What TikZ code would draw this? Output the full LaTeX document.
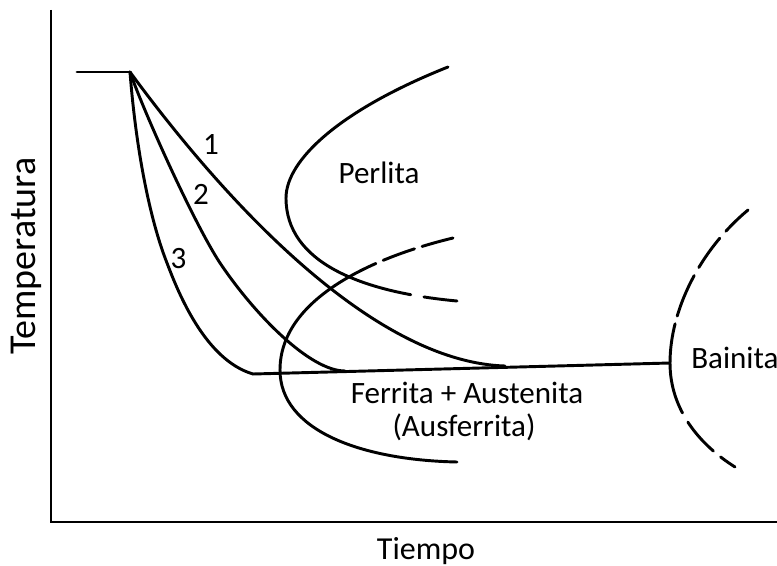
\documentclass[tikz,border=0pt]{standalone}
\usepackage{fontspec}
\setmainfont{Carlito}
\begin{document}
\begin{tikzpicture}[x=0.75pt,y=-0.75pt,
  curve/.style={line width=2.2pt, line cap=round, line join=round},
  axis/.style={line width=1.5pt},
  lbl/.style={font=\fontsize{23.3}{28}\selectfont, inner sep=0pt, anchor=base},
  biglbl/.style={font=\fontsize{28.5}{34}\selectfont, inner sep=0pt, anchor=base}]
\useasboundingbox (0,0) rectangle (777,566);
\fill[white] (0,0) rectangle (777,566);
% axes
\coordinate (top) at (51,10);
\coordinate (origin) at (51,522);
\coordinate (xend) at (777,522);
\draw[axis] (top) -- (origin) -- (xend);
% cooling curves
\coordinate (s0) at (77,72);
\coordinate (s1) at (130,72);
\coordinate (m3) at (167,263);
\coordinate (e3) at (253,374);
\coordinate (m2) at (220,263);
\coordinate (e2) at (345,371);
\coordinate (e1) at (505,366);
\coordinate (bn) at (670,363);
\draw[curve] (s0) -- (s1);
\draw[curve] (s1) .. controls (229,207) and (375,362) .. (e1);
\draw[curve] (s1) .. controls (145,115) and (195,225) .. (m2)
                  .. controls (255,315) and (310,371) .. (e2);
\draw[curve] (s1) .. controls (136,150) and (150,220) .. (m3)
                  .. controls (178,292) and (205,360) .. (e3);
\draw[curve] (e3) -- (bn);
% Perlita C-curve
\coordinate (pt) at (448,67);
\coordinate (pn) at (286,198);
\coordinate (pb) at (457,301);
\draw[curve] (pt) .. controls (340,110) and (286,160) .. (pn);
\draw[curve, dash pattern=on 25pt off 10pt on 2000pt] (pb) .. controls (360,292) and (286,262) .. (pn);
% Ferrita C-curve
\coordinate (ft) at (453,238);
\coordinate (fn) at (280,370);
\coordinate (fb) at (457,462);
\draw[curve, dash pattern=on 24pt off 6pt on 25pt off 6pt on 2000pt] (ft) .. controls (370,258) and (280,300) .. (fn);
\draw[curve] (fn) .. controls (280,430) and (360,460) .. (fb);
% Bainita C-curve
\coordinate (bt) at (748,210);
\coordinate (bb) at (735,467);
\draw[curve, dash pattern=on 23pt off 7pt on 27pt off 7pt on 33pt off 6pt on 200pt] (bt) .. controls (700,250) and (670,310) .. (bn);
\draw[curve, dash pattern=on 39pt off 8pt on 29pt off 7pt on 40pt] (bn) .. controls (670,410) and (700,445) .. (bb);
% labels
\node[lbl] (l1) at (211,155) {1};
\node[lbl] (l2) at (201,205) {2};
\node[lbl] (l3) at (178.5,269) {3};
\node[lbl] (perlita) at (379,184) {Perlita};
\node[lbl] (fa) at (467,403) {Ferrita + Austenita};
\node[lbl] (ausf) at (464,436) {(Ausferrita)};
\node[lbl, anchor=base west] (bain) at (691,368) {Bainita};
\node[lbl, font=\fontsize{24}{29}\selectfont] (tiempo) at (426,559) {Tiempo};
\node[biglbl, rotate=90] (temp) at (35,256) {Temperatura};
\end{tikzpicture}
\end{document}
